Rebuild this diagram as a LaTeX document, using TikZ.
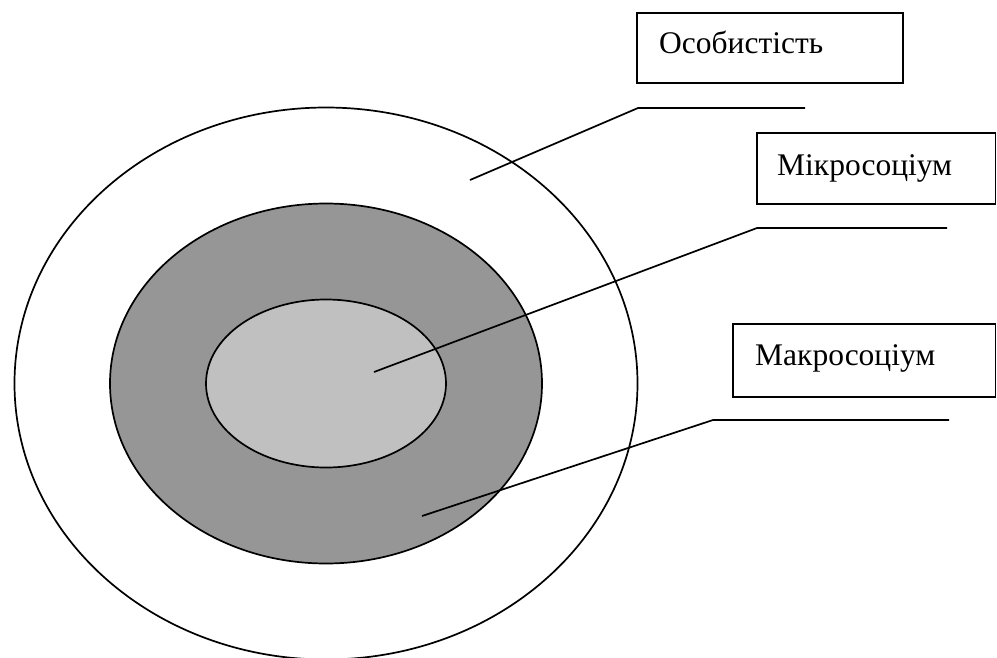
\documentclass[tikz,border=0pt]{standalone}
\usepackage{fontspec}
\setmainfont{Liberation Serif}
\begin{document}
\begin{tikzpicture}[x=1pt,y=-1pt,
  ln/.style={line width=1.7pt, black},
  labelbox/.style={draw, line width=1.7pt, rectangle},
  labeltext/.style={anchor=base west, inner sep=0pt, font=\fontsize{31.5}{37}\selectfont}]
\useasboundingbox (0,0) rectangle (997,657);
\clip (0,0) rectangle (997,657);
% ellipses
\coordinate (ctr) at (326,383.5);
\draw[ln] (ctr) ellipse [x radius=311.5, y radius=276];
\draw[ln, fill={rgb,255:red,150;green,150;blue,150}] (ctr) ellipse [x radius=216, y radius=180];
\draw[ln, fill={rgb,255:red,192;green,192;blue,192}] (ctr) ellipse [x radius=120, y radius=84];
% boxes
\draw[labelbox] (637,13) rectangle (903,83);
\draw[labelbox] (757,133) rectangle (995.5,204);
\draw[labelbox] (733,324) rectangle (995.5,397);
\node[labeltext] (t1) at (659,53) {Особистість};
\node[labeltext] (t2) at (777,175) {Мікросоціум};
\node[labeltext] (t3) at (755,365) {Макросоціум};
% leader lines
\coordinate (s1) at (470,180);
\coordinate (k1) at (638,108);
\coordinate (e1) at (805,108);
\coordinate (s2) at (374,372);
\coordinate (k2) at (757,228);
\coordinate (e2) at (947,228);
\coordinate (s3) at (422,516);
\coordinate (k3) at (713,420);
\coordinate (e3) at (949,420);
\draw[ln] (s1) -- (k1) -- (e1);
\draw[ln] (s2) -- (k2) -- (e2);
\draw[ln] (s3) -- (k3) -- (e3);
\end{tikzpicture}
\end{document}
